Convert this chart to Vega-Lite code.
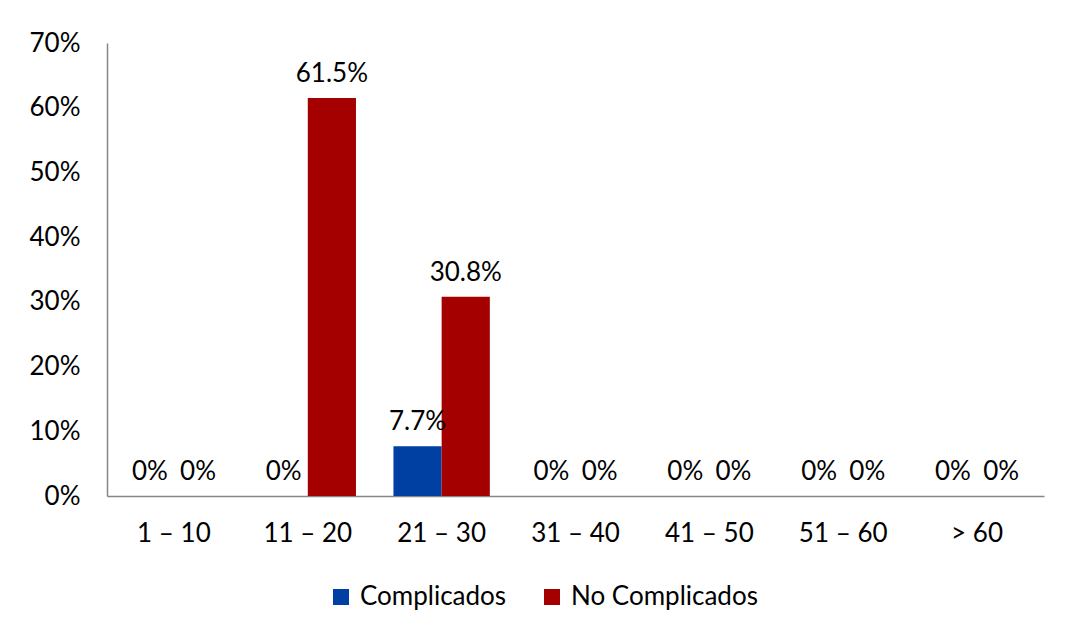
{
  "$schema": "https://vega.github.io/schema/vega-lite/v6.json",
  "width": 937,
  "height": 453,
  "autosize": {"type": "none"},
  "padding": {"left": 107, "top": 43, "right": 21, "bottom": 137},
  "background": "white",
  "config": {"view": {"stroke": null}, "font": "Lato"},
  "data": {
    "values": [
      {"grupo": "1 – 10", "serie": "Complicados", "valor": 0},
      {"grupo": "1 – 10", "serie": "No Complicados", "valor": 0},
      {"grupo": "11 – 20", "serie": "Complicados", "valor": 0},
      {"grupo": "11 – 20", "serie": "No Complicados", "valor": 0.615},
      {"grupo": "21 – 30", "serie": "Complicados", "valor": 0.077},
      {"grupo": "21 – 30", "serie": "No Complicados", "valor": 0.308},
      {"grupo": "31 – 40", "serie": "Complicados", "valor": 0},
      {"grupo": "31 – 40", "serie": "No Complicados", "valor": 0},
      {"grupo": "41 – 50", "serie": "Complicados", "valor": 0},
      {"grupo": "41 – 50", "serie": "No Complicados", "valor": 0},
      {"grupo": "51 – 60", "serie": "Complicados", "valor": 0},
      {"grupo": "51 – 60", "serie": "No Complicados", "valor": 0},
      {"grupo": "> 60", "serie": "Complicados", "valor": 0},
      {"grupo": "> 60", "serie": "No Complicados", "valor": 0}
    ]
  },
  "encoding": {
    "x": {
      "field": "grupo",
      "type": "nominal",
      "sort": ["1 – 10", "11 – 20", "21 – 30", "31 – 40", "41 – 50", "51 – 60", "> 60"],
      "scale": {"paddingInner": 0.28, "paddingOuter": 0.14},
      "axis": {
        "title": null,
        "labelAngle": 0,
        "labelFontSize": 26,
        "labelColor": "#000000",
        "labelPadding": 24,
        "labelLimit": 0,
        "ticks": false,
        "domainColor": "#868686",
        "domainWidth": 1.5
      }
    },
    "xOffset": {"field": "serie", "sort": ["Complicados", "No Complicados"]},
    "y": {
      "field": "valor",
      "type": "quantitative",
      "scale": {"domain": [0, 0.7]},
      "axis": {
        "title": null,
        "format": ".0%",
        "values": [0, 0.1, 0.2, 0.3, 0.4, 0.5, 0.6, 0.7],
        "grid": false,
        "ticks": false,
        "labelFontSize": 26,
        "labelColor": "#000000",
        "labelPadding": 27,
        "domainColor": "#868686",
        "domainWidth": 1.5
      }
    }
  },
  "layer": [
    {
      "mark": {"type": "bar"},
      "encoding": {
        "color": {
          "field": "serie",
          "type": "nominal",
          "scale": {"domain": ["Complicados", "No Complicados"], "range": ["#0040A3", "#A50000"]},
          "legend": {
            "title": null,
            "orient": "none",
            "direction": "horizontal",
            "legendX": 221,
            "legendY": 541,
            "symbolType": "square",
            "symbolSize": 256,
            "symbolStrokeWidth": 0,
            "labelFontSize": 26,
            "labelColor": "#000000",
            "labelLimit": 0,
            "labelOffset": 6,
            "columnPadding": 32
          }
        }
      }
    },
    {
      "mark": {"type": "text", "baseline": "alphabetic", "dy": -16, "fontSize": 26, "color": "#000000"},
      "encoding": {
        "text": {"field": "valor", "format": ".1~%"}
      }
    }
  ]
}
